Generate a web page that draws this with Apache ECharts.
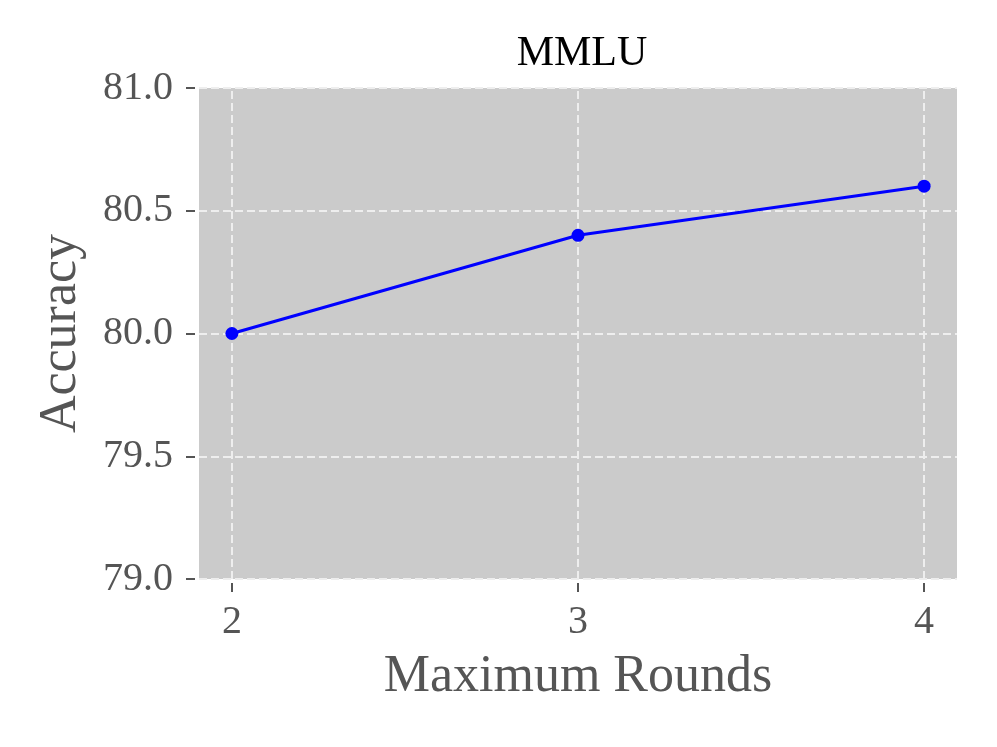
<!DOCTYPE html>
<html>
<head>
<meta charset="utf-8">
<script src="https://cdn.jsdelivr.net/npm/echarts@6/dist/echarts.min.js"></script>
<style>
html,body{margin:0;padding:0;background:#fff;}
#chart{width:997px;height:747px;}
</style>
</head>
<body>
<div id="chart"></div>
<script>
const rounds = [2, 3, 4];
const accuracy = [80.0, 80.4, 80.6];
const xTicks = [2, 3, 4];
const chartTitle = 'MMLU';
const xName = 'Maximum Rounds';
const yName = 'Accuracy';

const FONT = '"Liberation Serif", "Times New Roman", serif';
const chart = echarts.init(document.getElementById('chart'), null, {renderer: 'canvas'});
chart.setOption({
  backgroundColor: '#ffffff',
  animation: false,
  title: {
    text: chartTitle, left: 577, top: 28, textAlign: 'center',
    textStyle: {fontFamily: FONT, fontSize: 42, fontWeight: 'normal', color: '#000'}
  },
  grid: {left: 199, right: 40, top: 88, bottom: 168, show: true, backgroundColor: '#cbcbcb', borderWidth: 0},
  xAxis: {
    type: 'value', min: 1.905, max: 4.095, offset: 4,
    name: xName, nameLocation: 'middle', nameGap: 68,
    nameTextStyle: {fontFamily: FONT, fontSize: 52, color: '#555'},
    axisLine: {show: false},
    axisTick: {show: true, length: 9, customValues: xTicks, lineStyle: {color: '#555', width: 2}},
    axisLabel: {customValues: xTicks, margin: 19, fontFamily: FONT, fontSize: 40, color: '#555'},
    splitLine: {show: false}
  },
  yAxis: {
    type: 'value', min: 79, max: 81, interval: 0.5, offset: 4,
    name: yName, nameLocation: 'middle', nameGap: 108,
    nameTextStyle: {fontFamily: FONT, fontSize: 52, color: '#555'},
    axisLine: {show: false},
    axisTick: {show: true, length: 9, lineStyle: {color: '#555', width: 2}},
    axisLabel: {margin: 22, fontFamily: FONT, fontSize: 40, color: '#555', formatter: v => v.toFixed(1)},
    splitLine: {show: true, lineStyle: {color: '#eeeeee', width: 2, type: [8, 4]}}
  },
  series: [
    {
      type: 'line', data: [], z: 1, silent: true,
      markLine: {
        silent: true, symbol: 'none', label: {show: false},
        lineStyle: {color: '#eeeeee', width: 2, type: [8, 4]},
        data: xTicks.map(v => ({xAxis: v}))
      }
    },
    {
      type: 'line', zlevel: 1, z: 3,
      data: rounds.map((r, i) => [r, accuracy[i]]),
      symbol: 'circle', symbolSize: 13, showAllSymbol: true,
      itemStyle: {color: '#0000ff', borderWidth: 0},
      lineStyle: {color: '#0000ff', width: 3}
    }
  ]
});
</script>
</body>
</html>
